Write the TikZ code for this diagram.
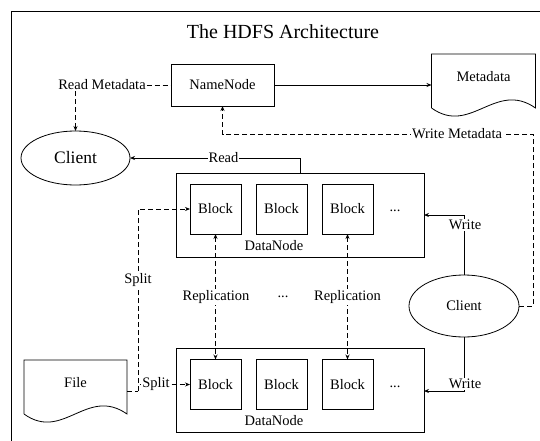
\documentclass[tikz,border=0pt]{standalone}
\usepackage{fontspec}
\setmainfont{Liberation Serif}
\usetikzlibrary{shapes.geometric,arrows.meta}
\newcommand{\docoutline}[1]{%
  \draw[line width=0.8pt] ([yshift=8pt]#1.south west) -- (#1.north west) -- (#1.north east) -- ([yshift=8pt]#1.south east)
    .. controls ([xshift=-40pt,yshift=36pt]#1.south east) and ([xshift=39pt,yshift=-20pt]#1.south west) .. ([yshift=8pt]#1.south west);}
\begin{document}
\begin{tikzpicture}[x=1pt,y=-1pt,
  every node/.style={font=\fontsize{14.5pt}{17pt}\selectfont, outer sep=0pt},
  every path/.style={line width=0.8pt},
  >={Stealth[length=5pt,width=4pt]},
  box/.style={draw, rectangle, inner sep=0pt},
  blk/.style={box, minimum width=51pt, minimum height=50pt},
  dnode/.style={box, minimum width=248pt, minimum height=84pt},
  client/.style={draw, ellipse, inner sep=0pt},
  docnode/.style={rectangle, inner sep=0pt, minimum height=62pt},
  lbl/.style={fill=white, inner sep=1pt},
  dsh/.style={dash pattern=on 5pt off 3pt}]
\useasboundingbox (0,0) rectangle (540,441);
% frame
\draw (11.5,441) -- (11.5,11.5) -- (540,11.5);
% title
\node[font=\fontsize{20pt}{23pt}\selectfont] (title) at (283,32) {The HDFS Architecture};
% NameNode and Metadata
\node[box, minimum width=103pt, minimum height=42pt] (nn) at (222.5,85) {NameNode};
\node[docnode, minimum width=104pt] (meta) at (483.5,85) {};
\docoutline{meta}
\node (metatxt) at (483.5,77) {Metadata};
\draw[->] (nn.east) -- (meta.west);
% left client
\node[client, minimum width=109pt, minimum height=54pt, font=\fontsize{17.5pt}{20pt}\selectfont] (cl1) at (75.5,158) {Client};
\node[inner sep=1pt] (rm) at (102,85) {Read Metadata};
\draw[dsh] (rm.east) -- (nn.west);
\draw[dsh,->] (rm.south -| cl1.north) -- (cl1.north);
% DataNodes
\node[dnode] (dn1) at (300,215) {};
\node (dn1t) at (274,246) {DataNode};
\node[blk] (b11) at (215.5,209) {Block};
\node[blk] (b12) at (281.5,209) {Block};
\node[blk] (b13) at (347.5,209) {Block};
\node (dots1) at (395,211) {...};
\node[dnode] (dn2) at (300,390) {};
\node (dn2t) at (274,421) {DataNode};
\node[blk] (b21) at (215.5,384.5) {Block};
\node[blk] (b22) at (281.5,384.5) {Block};
\node[blk] (b23) at (347.5,384.5) {Block};
\node (dots2) at (395,387) {...};
% Read
\draw[->] (dn1.north) |- (cl1.east);
\node[lbl] (rd) at (223.5,158) {Read};
% Replication
\draw[dsh,<->] (b11.south) -- (b21.north);
\draw[dsh,<->] (b13.south) -- (b23.north);
\node[lbl] (rep1) at (216,297) {Replication};
\node[lbl] (rep2) at (347.5,297) {Replication};
\node (dots3) at (283,297) {...};
% right client
\node[client, minimum width=110pt, minimum height=62pt] (cl2) at (464,306) {Client};
\draw[->] (cl2.north) |- (dn1.east);
\node[lbl] (w1) at (465,225) {Write};
\draw[->] (cl2.south) |- ([yshift=-1pt]dn2.east);
\node[lbl] (w2) at (465,384) {Write};
% Write Metadata
\coordinate (wmc) at (533,134);
\draw[dsh,->] (cl2.east) -| (wmc) -| (nn.south);
\node[lbl] (wm) at (457,134) {Write Metadata};
% File and Split
\node[docnode, minimum width=103pt] (file) at (75.5,391) {};
\docoutline{file}
\node (filetxt) at (75.5,383) {File};
\coordinate (sp) at (138,391);
\draw[dsh] (file.east) -- (sp);
\draw[dsh,->] (sp) |- (b11.west);
\draw[dsh,->] (sp) |- (b21.west);
\node[lbl] (sp1) at (138,280) {Split};
\node[lbl] (sp2) at (156,384) {Split};
\end{tikzpicture}
\end{document}
